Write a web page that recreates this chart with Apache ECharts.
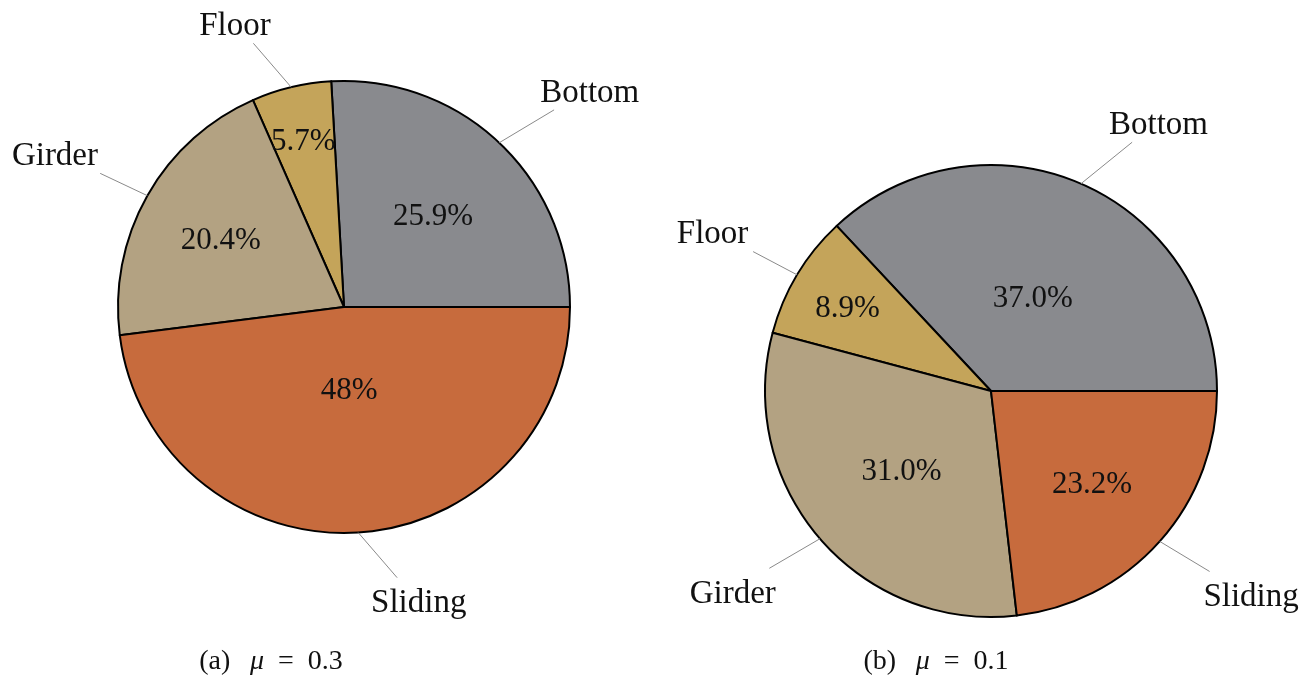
<!DOCTYPE html>
<html>
<head>
<meta charset="utf-8">
<script src="https://cdn.jsdelivr.net/npm/echarts@6/dist/echarts.min.js"></script>
<style>
  html, body { margin: 0; padding: 0; background: #ffffff; }
  #chart { width: 1316px; height: 677px; }
</style>
</head>
<body>
<div id="chart"></div>
<script>
// Share of each failure location, in percent
const categories = ['Bottom', 'Floor', 'Girder', 'Sliding'];
const sharesA = ['25.9', '5.7', '20.4', '48'];      // (a) mu = 0.3
const sharesB = ['37.0', '8.9', '31.0', '23.2'];    // (b) mu = 0.1
const captionA = ['(a)\u2002\u2009', 'μ', '\u2002=\u2002' + '0.3'];
const captionB = ['(b)\u2002\u2009', 'μ', '\u2002=\u2002' + '0.1'];
const sliceColors = ['#898a8e', '#c4a45a', '#b3a282', '#c76b3d'];

const FONT = '"Liberation Serif", "Times New Roman", serif';
const NAME_SIZE = 33;
const PCT_SIZE = 31;
const CAP_SIZE = 28;
const RADIUS = 226;
const PIN = 0.2;      // pin distance of the outer labels, as a fraction of the radius
const SEP = 10;       // padding round an outer label box
const MID = 0.21;     // canvas 'middle' baseline sits this far (in em) above the alphabetic one

function buildPie(shares, center, caption, capPos) {
  const values = shares.map(parseFloat);
  const starts = [];
  let acc = 0;
  values.forEach(v => { starts.push(acc); acc += v; });
  return { shares, values, starts, total: acc, center, caption, capPos };
}

const pies = [
  buildPie(sharesA, [344, 307], captionA, [271, 662]),
  buildPie(sharesB, [991, 391], captionB, [936, 662])
];

const measureCtx = document.createElement('canvas').getContext('2d');
function textWidth(t, size) {
  measureCtx.font = size + 'px ' + FONT;
  return measureCtx.measureText(t).width;
}

// Which corner/side of the label box sits on the pin end (compass anchor)
function anchorOf(deg) {
  const a = ((deg % 360) + 360) % 360;
  const eps = 0.5;
  const near = t => Math.abs(a - t) < eps;
  const hx = (near(90) || near(270)) ? 0 : ((a < 90 || a > 270) ? 1 : -1);
  const vy = (near(0) || near(180) || near(360)) ? 0 : (a < 180 ? -1 : 1);
  return [hx, vy];
}

function makeRender(pie) {
  return function (params, api) {
    const i = params.dataIndex;
    const v = pie.values[i];
    const mid = pie.starts[i] + v / 2;
    const deg = mid * 360 / pie.total;

    // percentage label inside the slice
    const span = v * 3.6;
    const innerR = Math.max(Math.min((span - 10) / 110 * -0.3, 0), -0.5) + 0.8;
    const P = api.coord([innerR, mid]);

    // outer label with pin line
    const E = api.coord([1, mid]);
    const A = api.coord([1 + PIN, mid]);
    const name = categories[i];
    const w = textWidth(name, NAME_SIZE);
    const asc = 0.69 * NAME_SIZE;
    const desc = /[gjpqy]/.test(name) ? 0.22 * NAME_SIZE : 0;
    const bw = w + 2 * SEP;
    const bh = asc + desc + 2 * SEP;
    const [hx, vy] = anchorOf(deg);
    const left = hx === 1 ? A[0] : (hx === -1 ? A[0] - bw : A[0] - bw / 2);
    const top = vy === 1 ? A[1] : (vy === -1 ? A[1] - bh : A[1] - bh / 2);
    const cx = left + bw / 2;
    const cy = top + bh / 2;
    const baseline = top + SEP + asc;

    // clip the pin line at the label box
    const dx = E[0] - cx, dy = E[1] - cy;
    const len = Math.hypot(dx, dy);
    const ux = dx / len, uy = dy / len;
    const t = Math.min(Math.abs(ux) > 1e-6 ? (bw / 2) / Math.abs(ux) : Infinity,
                       Math.abs(uy) > 1e-6 ? (bh / 2) / Math.abs(uy) : Infinity);
    const L = [cx + ux * t, cy + uy * t];

    return {
      type: 'group',
      children: [
        {
          type: 'line',
          shape: { x1: E[0], y1: E[1], x2: L[0], y2: L[1] },
          style: { stroke: '#8a8a8a', lineWidth: 1 }
        },
        {
          type: 'text',
          x: cx,
          y: baseline - MID * NAME_SIZE,
          style: {
            text: name,
            font: NAME_SIZE + 'px ' + FONT,
            fill: '#111111',
            align: 'center',
            verticalAlign: 'middle'
          }
        },
        {
          type: 'text',
          x: P[0],
          // centre the ink (digits ~0.34em tall half) on the label point
          y: P[1] + (0.34 - MID) * PCT_SIZE,
          style: {
            text: pie.shares[i] + '%',
            font: PCT_SIZE + 'px ' + FONT,
            fill: '#111111',
            align: 'center',
            verticalAlign: 'middle'
          }
        }
      ]
    };
  };
}

const chart = echarts.init(document.getElementById('chart'), null, { renderer: 'canvas' });

const option = {
  backgroundColor: '#ffffff',
  animation: false,
  polar: pies.map(p => ({ center: p.center, radius: RADIUS })),
  angleAxis: pies.map((p, k) => ({
    polarIndex: k, type: 'value', min: 0, max: p.total,
    startAngle: 0, clockwise: false, show: false
  })),
  radiusAxis: pies.map((p, k) => ({
    polarIndex: k, type: 'value', min: 0, max: 1, show: false
  })),
  series: [
    ...pies.map(p => ({
      type: 'pie',
      center: p.center,
      radius: RADIUS,
      startAngle: 0,
      clockwise: false,
      avoidLabelOverlap: false,
      silent: true,
      z: 2,
      label: { show: false },
      labelLine: { show: false },
      emphasis: { disabled: true },
      itemStyle: { borderColor: '#000000', borderWidth: 2 },
      data: categories.map((c, i) => ({
        name: c, value: p.values[i], itemStyle: { color: sliceColors[i] }
      }))
    })),
    ...pies.map((p, k) => ({
      type: 'custom',
      coordinateSystem: 'polar',
      polarIndex: k,
      silent: true,
      z: 5,
      encode: { radius: 0, angle: 1 },
      data: p.values.map((v, i) => [1, p.starts[i] + v / 2]),
      renderItem: makeRender(p)
    }))
  ],
  graphic: pies.map(p => ({
    type: 'text',
    x: p.capPos[0],
    y: p.capPos[1],
    style: {
      text: '{r|' + p.caption[0] + '}{i|' + p.caption[1] + '}{r|' + p.caption[2] + '}',
      align: 'center',
      verticalAlign: 'middle',
      rich: {
        r: { fontFamily: FONT, fontSize: CAP_SIZE, fill: '#111111' },
        i: { fontFamily: FONT, fontSize: CAP_SIZE, fontStyle: 'italic', fill: '#111111' }
      }
    }
  }))
};

chart.setOption(option);
</script>
</body>
</html>
